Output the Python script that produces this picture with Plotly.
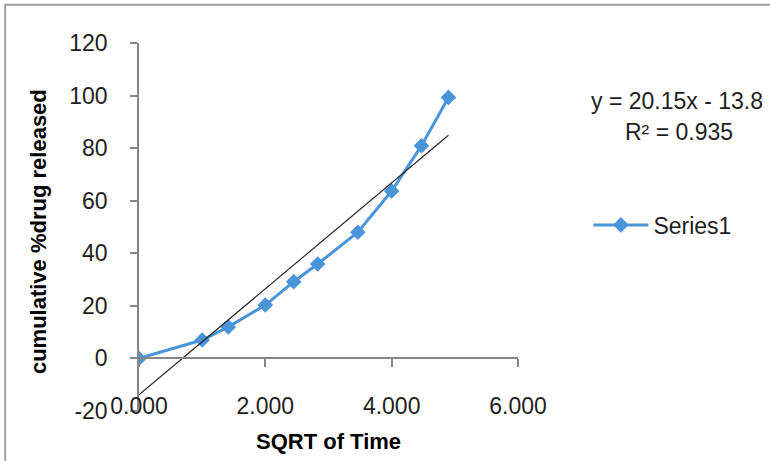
import numpy as np
import plotly.graph_objects as go

# ---- data ----
sqrt_time = [0.000, 1.000, 1.414, 2.000, 2.449, 2.828, 3.464, 4.000, 4.472, 4.899]
cum_release = [0.0, 7.0, 12.0, 20.3, 29.2, 35.9, 48.0, 63.7, 80.9, 99.3]
series_name = "Series1"
trend_slope = 20.15
trend_intercept = -13.8
trend_r2 = 0.935
x_ticks = [0, 2, 4, 6]
x_tick_text = ["0.000", "2.000", "4.000", "6.000"]
y_ticks = [-20, 0, 20, 40, 60, 80, 100, 120]
y_tick_text = ["-20", "0", "20", "40", "60", "80", "100", "120"]

W, H = 770, 461
L, R, T, B = 139, 251.5, 43.3, 50.2
FONT = "Liberation Sans"
FS = 23
BLUE = "rgb(74,148,218)"
AX = "rgb(134,134,134)"
TXT = "rgb(30,30,30)"

trend_x = [min(sqrt_time), max(sqrt_time)]
trend_y = [trend_slope * v + trend_intercept for v in trend_x]

fig = go.Figure()
fig.add_trace(go.Scatter(
    x=sqrt_time, y=cum_release, name=series_name, mode="lines+markers",
    line=dict(color=BLUE, width=3),
    marker=dict(symbol="diamond", size=12, color=BLUE),
))
fig.add_trace(go.Scatter(
    x=trend_x, y=trend_y, mode="lines", showlegend=False,
    line=dict(color="rgb(40,40,40)", width=1.2), hoverinfo="skip",
))

ymin, ymax = -20, 120
zero_pos = (0 - ymin) / (ymax - ymin)
plot_w = W - L - R
plot_h = H - T - B
label_pos = (H - B - 390) / plot_h

fig.update_layout(
    width=W, height=H,
    margin=dict(l=L, r=R, t=T, b=B, pad=0),
    paper_bgcolor="white", plot_bgcolor="white",
    font=dict(family=FONT, size=FS, color=TXT),
    showlegend=True,
    legend=dict(x=(589 - L) / plot_w, y=(H - B - 225) / plot_h,
                xanchor="left", yanchor="middle",
                font=dict(family=FONT, size=FS, color=TXT),
                bgcolor="rgba(0,0,0,0)", itemwidth=55, tracegroupgap=0),
    xaxis=dict(range=[0, 6], tickvals=x_ticks, showticklabels=False,
               anchor="free", position=zero_pos,
               showline=True, linecolor=AX, linewidth=1.5,
               ticks="outside", ticklen=8, tickcolor=AX, tickwidth=1.5,
               showgrid=False, zeroline=False, fixedrange=True),
    xaxis2=dict(range=[0, 6], tickvals=x_ticks, ticktext=x_tick_text,
                overlaying="x", anchor="free", position=label_pos, side="bottom",
                showline=False, ticks="", showgrid=False, zeroline=False,
                tickfont=dict(family=FONT, size=FS, color=TXT)),
    yaxis=dict(range=[ymin, ymax], tickvals=y_ticks, ticktext=y_tick_text,
               showline=True, linecolor=AX, linewidth=1.5,
               ticks="outside", ticklen=7, tickcolor=AX, tickwidth=1.5,
               ticklabelstandoff=18,
               showgrid=False, zeroline=False,
               tickfont=dict(family=FONT, size=FS, color=TXT)),
)

# invisible trace so the label axis is drawn
fig.add_trace(go.Scatter(x=[0], y=[None], xaxis="x2", showlegend=False,
                         hoverinfo="skip", mode="markers"))

# axis titles
fig.add_annotation(text="<b>cumulative %drug released</b>", xref="paper", yref="paper",
                   x=(39 - L) / plot_w, y=(H - B - 232) / plot_h,
                   textangle=-90, showarrow=False, xanchor="center", yanchor="middle",
                   font=dict(family=FONT, size=22, color="black"))
fig.add_annotation(text="<b>SQRT of Time</b>", xref="paper", yref="paper",
                   x=(329 - L) / plot_w, y=(H - B - 441) / plot_h,
                   showarrow=False, xanchor="center", yanchor="middle",
                   font=dict(family=FONT, size=22, color="black"))

# trendline equation
fig.add_annotation(text=f"y = {trend_slope:.2f}x - {abs(trend_intercept):.1f}",
                   xref="paper", yref="paper",
                   x=(678 - L) / plot_w, y=(H - B - 101) / plot_h,
                   showarrow=False, xanchor="center", yanchor="middle",
                   font=dict(family=FONT, size=FS, color=TXT))
fig.add_annotation(text=f"R² = {trend_r2}",
                   xref="paper", yref="paper",
                   x=(680 - L) / plot_w, y=(H - B - 132) / plot_h,
                   showarrow=False, xanchor="center", yanchor="middle",
                   font=dict(family=FONT, size=FS, color=TXT))

# chart border
fig.add_shape(type="rect", xref="paper", yref="paper",
              x0=(5 - L) / plot_w, x1=(790 - L) / plot_w,
              y0=(H - B - 480) / plot_h, y1=(H - B - 5) / plot_h,
              line=dict(color="rgb(160,160,160)", width=2), layer="below")

fig.write_html("out.html", config={"displayModeBar": False},
               post_script="document.body.style.margin='0';document.body.style.overflow='hidden';")
